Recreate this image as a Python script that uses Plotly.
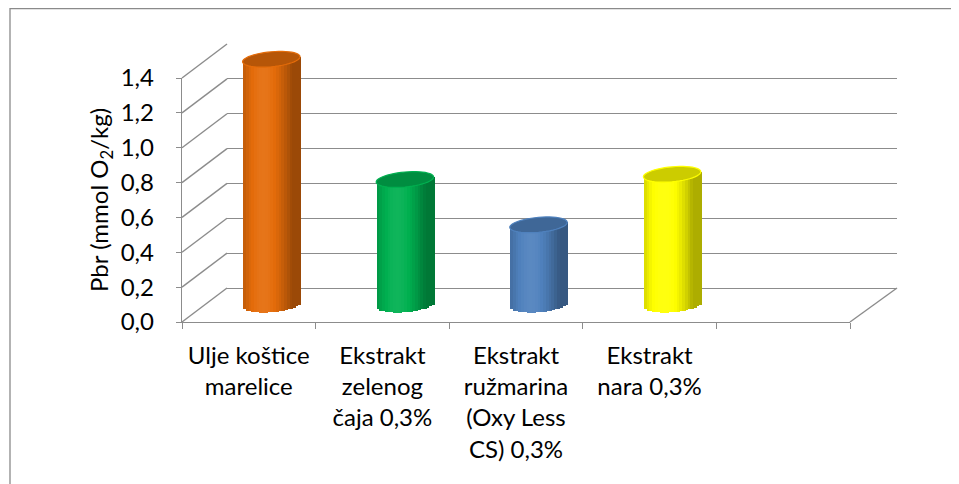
import numpy as np
import plotly.graph_objects as go

# ---------------- data ----------------
categories = [
    "Ulje koštice<br>marelice",
    "Ekstrakt<br>zelenog<br>čaja 0,3%",
    "Ekstrakt<br>ružmarina<br>(Oxy Less<br>CS) 0,3%",
    "Ekstrakt<br>nara 0,3%",
    " ",
]
values = [1.41, 0.72, 0.46, 0.75]
bar_colors = ["#E46C0A", "#00B050", "#4F81BD", "#FFFF00"]
y_ticks = [0.0, 0.2, 0.4, 0.6, 0.8, 1.0, 1.2, 1.4]
y_title = "Pbr (mmol O<sub>2</sub>/kg)"

# ---------------- geometry (screen pixels; page body adds an 8px margin) ----------------
OFF = 8
W, H = 959 - OFF, 484 - OFF
SL, ST, SY0, SR = 182, 44, 322, 897     # plot area in screen pixels
L, T = SL - OFF, ST - OFF
B = H - (SY0 - OFF)
R = W - (SR - OFF)
PW, PH = SR - SL, SY0 - ST
FRONT_W = 668                   # front x-axis length
FRONT_H = 244                   # front y-axis length (0..1.4)
DX, DY = 45, 34                 # depth offset of back wall
YMAX = 1.4
K = FRONT_H / YMAX              # px per unit


def fx(p):
    return (p - SL) / PW


def fy(p):
    return (SY0 - p) / PH


FONT = "Lato, 'Open Sans', sans-serif"
FS = 24
GRID = "#8C8C8C"
GW = 1.4

fig = go.Figure()

# ---- back wall (subplot xy) ----
fig.add_trace(go.Scatter(x=[0], y=[None], xaxis="x", yaxis="y", showlegend=False,
                         hoverinfo="skip", mode="markers"))

# ---- front axes (subplot x2y2) ----
fig.add_trace(go.Scatter(x=categories, y=[None] * len(categories), xaxis="x2", yaxis="y2",
                         showlegend=False, hoverinfo="skip", mode="markers"))

# ---- cylinders (subplot x3y3) ----
BW = 0.43
N = 21
ELL_B = 7.5 / K       # ellipse half height (data units)
TILT = 2.5 / K        # ellipse tilt (right end higher)
xs = list(range(len(values)))


def shade(hexcol, f):
    h = hexcol.lstrip("#")
    r, g, b = (int(h[i:i + 2], 16) for i in (0, 2, 4))
    if f <= 1:
        c = [v * f for v in (r, g, b)]
    else:
        c = [v + (255 - v) * (f - 1) for v in (r, g, b)]
    c = [int(max(0, min(255, round(v)))) for v in c]
    return "rgb(%d,%d,%d)" % tuple(c)


def intensity(u):
    theta = (u - 0.5) * np.pi
    light = -0.45
    return 0.68 + 0.38 * max(0.0, np.cos(theta - light))


for i in range(N):
    u = (i + 0.5) / N
    s = 2 * u - 1
    base = -ELL_B * np.sqrt(max(0.0, 1 - s ** 2)) + TILT * s
    top_shift = TILT * s
    f = intensity(u)
    cols = [shade(c, f) for c in bar_colors]
    fig.add_trace(go.Bar(
        x=xs, y=[v + top_shift - base for v in values], base=[base] * len(values),
        width=[BW / N * 1.25] * len(values), offset=[-BW / 2 + i * BW / N] * len(values),
        marker=dict(color=cols, line=dict(width=0)),
        xaxis="x3", yaxis="y3", showlegend=False, hoverinfo="skip",
    ))

shapes = []
# cylinder tops (tilted ellipses)
t = np.linspace(0, 2 * np.pi, 48, endpoint=False)
for xi, v, c in zip(xs, values, bar_colors):
    ex = xi + (BW / 2) * np.cos(t)
    ey = v + ELL_B * np.sin(t) + TILT * np.cos(t)
    path = "M " + " L ".join("%.5f,%.5f" % (a, b) for a, b in zip(ex, ey)) + " Z"
    shapes.append(dict(type="path", xref="x3", yref="y3", path=path,
                       fillcolor=shade(c, 0.8), line=dict(color=shade(c, 1.0), width=1.2),
                       layer="above"))

# side wall oblique grid lines
for v in y_ticks:
    shapes.append(dict(type="line", xref="paper", yref="paper",
                       x0=0, y0=fy(SY0 - v * K), x1=fx(SL + DX), y1=fy(SY0 - DY - v * K),
                       line=dict(color=GRID, width=GW), layer="below"))
# floor right edge
shapes.append(dict(type="line", xref="paper", yref="paper",
                   x0=fx(SL + FRONT_W), y0=0, x1=1, y1=fy(SY0 - DY),
                   line=dict(color=GRID, width=GW), layer="below"))
# chart border
shapes.append(dict(type="rect", xref="paper", yref="paper",
                   x0=fx(10), y0=fy(8.6), x1=fx(980), y1=fy(500),
                   line=dict(color="#8A8A8A", width=1.3), fillcolor="rgba(0,0,0,0)"))

mid_lo, mid_hi = -0.09, 1.49
mid_y0 = SY0 - DY / 2

fig.update_layout(
    width=W, height=H,
    margin=dict(l=L, r=R, t=T, b=B),
    paper_bgcolor="white", plot_bgcolor="rgba(0,0,0,0)",
    separators=",.",
    barmode="overlay", bargap=0,
    font=dict(family=FONT, size=FS, color="#000000"),
    showlegend=False,
    xaxis=dict(domain=[fx(SL + DX), 1], range=[0, 1], visible=False, fixedrange=True),
    yaxis=dict(domain=[fy(SY0 - DY), 1], range=[0, YMAX], tickvals=y_ticks,
               showgrid=True, gridcolor=GRID, gridwidth=GW,
               zeroline=True, zerolinecolor=GRID, zerolinewidth=GW,
               showticklabels=False, showline=False, ticks="", fixedrange=True),
    xaxis2=dict(domain=[0, fx(SL + FRONT_W)], anchor="y2", type="category",
                categoryorder="array", categoryarray=categories, range=[-0.5, len(categories) - 0.5],
                showline=True, linecolor=GRID, linewidth=GW,
                ticks="outside", tickson="boundaries", ticklen=6, tickcolor=GRID, tickwidth=GW,
                showgrid=False, zeroline=False, tickfont=dict(size=FS),
                ticklabelstandoff=12, fixedrange=True),
    yaxis2=dict(domain=[0, fy(SY0 - FRONT_H)], anchor="x2", range=[0, YMAX],
                tickvals=y_ticks, tickformat=".1f",
                showline=True, linecolor=GRID, linewidth=GW,
                ticks="outside", ticklen=5, tickcolor=GRID, tickwidth=GW,
                showgrid=False, zeroline=False, tickfont=dict(size=FS),
                ticklabelstandoff=17, fixedrange=True),
    xaxis3=dict(domain=[fx(SL + DX / 2), fx(SL + DX / 2 + FRONT_W)], anchor="y3",
                range=[-0.5, len(categories) - 0.5], visible=False, fixedrange=True),
    yaxis3=dict(domain=[fy(mid_y0 - mid_lo * K), fy(mid_y0 - mid_hi * K)], anchor="x3",
                range=[mid_lo, mid_hi], visible=False, fixedrange=True),
    shapes=shapes,
    annotations=[dict(text=y_title, textangle=-90, xref="paper", yref="paper",
                      x=fx(100), y=fy(SY0 - FRONT_H / 2), xanchor="center", yanchor="middle",
                      showarrow=False, font=dict(size=FS))],
)

fig.write_html("out.html")
